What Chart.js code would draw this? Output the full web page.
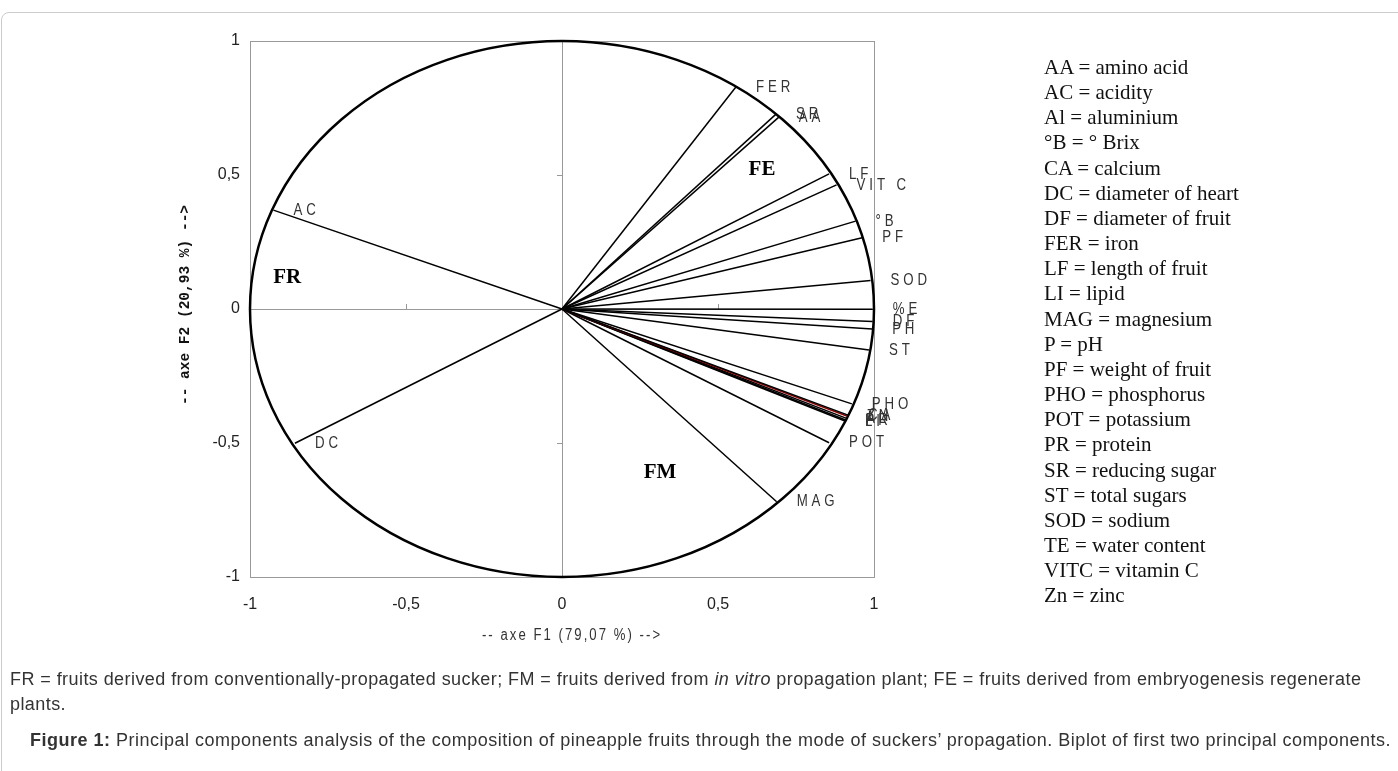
<!DOCTYPE html>
<html>
<head>
<meta charset="utf-8">
<script src="https://cdn.jsdelivr.net/npm/chart.js@4.4.1/dist/chart.umd.min.js"></script>
<style>
  body { margin: 0; background: #fff; width: 1398px; height: 771px; overflow: hidden; position: relative; }
  #frame { position: absolute; left: 1px; top: 12px; width: 1420px; height: 800px; border: 1px solid #ccc; border-radius: 8px; }
  #biplot { position: absolute; left: 0; top: 0; }
  #abbr { position: absolute; left: 1044px; top: 55px; font: 21px 'Liberation Serif', 'Times New Roman', serif; line-height: 25.15px; color: #111; }
  .cap { position: absolute; font: 18px 'Liberation Sans', Arial, sans-serif; color: #333; white-space: nowrap; }
</style>
</head>
<body>
<div id="frame"></div>
<canvas id="biplot" width="1398" height="771"></canvas>
<div id="abbr"></div>
<div class="cap" style="left:10px; top:667px; line-height:25px; letter-spacing:0.43px;">FR = fruits derived from conventionally-propagated sucker; FM = fruits derived from <i>in vitro</i> propagation plant; FE = fruits derived from embryogenesis regenerate<br>plants.</div>
<div class="cap" style="left:30px; top:730px; letter-spacing:0.5px;"><b>Figure 1:</b> Principal components analysis of the composition of pineapple fruits through the mode of suckers’ propagation. Biplot of first two principal components.</div>
<script>
// variable loadings on F1 / F2
const varNames = ["FER", "SR", "AA", "LF", "VIT C", "°B", "PF", "SOD", "%E", "DF", "PH", "ST", "PHO", "CA", "ZN", "AL", "PR", "LI", "POT", "MAG", "AC", "DC"];
const f1 = [0.558, 0.686, 0.695, 0.856, 0.880, 0.941, 0.962, 0.989, 0.996, 0.996, 0.994, 0.984, 0.929, 0.917, 0.913, 0.910, 0.909, 0.907, 0.856, 0.688, -0.925, -0.856];
const f2 = [0.829, 0.727, 0.716, 0.504, 0.463, 0.328, 0.266, 0.106, -0.001, -0.047, -0.075, -0.153, -0.354, -0.396, -0.399, -0.407, -0.414, -0.418, -0.499, -0.719, 0.369, -0.501];

// group labels
const groupNames = ["FR", "FE", "FM"];
const groupF1 = [-0.881, 0.641, 0.314];
const groupF2 = [0.116, 0.519, -0.612];

const tickValues = [-1, -0.5, 0, 0.5, 1];

const abbreviations = [
    "AA = amino acid", "AC = acidity", "Al = aluminium", "°B = ° Brix", "CA = calcium",
    "DC = diameter of heart", "DF = diameter of fruit", "FER = iron", "LF = length of fruit",
    "LI = lipid", "MAG = magnesium", "P = pH", "PF = weight of fruit", "PHO = phosphorus",
    "POT = potassium", "PR = protein", "SR = reducing sugar", "ST = total sugars",
    "SOD = sodium", "TE = water content", "VITC = vitamin C", "Zn = zinc"
];

document.getElementById("abbr").innerHTML = abbreviations.join("<br>");

const narrow = "'Liberation Sans Narrow','Arial Narrow','Liberation Sans',sans-serif";

const datasets = varNames.map((name, i) => ({
    label: name,
    data: [{ x: 0, y: 0 }, { x: f1[i], y: f2[i] }],
    showLine: true,
    borderColor: name === "ZN" ? "#8b0000" : "#000",
    borderWidth: 1.5,
    pointRadius: 0
}));

const frame = {
    id: "frame",
    beforeDatasetsDraw(chart) {
        const { ctx, chartArea: a, scales: { x, y } } = chart;
        const x0 = x.getPixelForValue(0), y0 = y.getPixelForValue(0);
        ctx.save();
        ctx.strokeStyle = "#999";
        ctx.lineWidth = 1;
        ctx.strokeRect(a.left + 0.5, a.top + 0.5, a.width, a.height);
        ctx.beginPath();
        ctx.moveTo(Math.round(x0) + 0.5, a.top);
        ctx.lineTo(Math.round(x0) + 0.5, a.bottom);
        ctx.moveTo(a.left, Math.round(y0) + 0.5);
        ctx.lineTo(a.right, Math.round(y0) + 0.5);
        [-0.5, 0.5].forEach(v => {
            const px = Math.round(x.getPixelForValue(v)) + 0.5;
            ctx.moveTo(px, y0);
            ctx.lineTo(px, y0 - 5);
            const py = Math.round(y.getPixelForValue(v)) + 0.5;
            ctx.moveTo(x0, py);
            ctx.lineTo(x0 - 5, py);
        });
        ctx.stroke();
        // correlation circle
        ctx.strokeStyle = "#000";
        ctx.lineWidth = 2.5;
        ctx.beginPath();
        ctx.ellipse(x0, y0, x.getPixelForValue(1) - x0, y0 - y.getPixelForValue(1), 0, 0, Math.PI * 2);
        ctx.stroke();
        ctx.restore();
    },
    afterDatasetsDraw(chart) {
        const { ctx, chartArea: a, scales: { x, y } } = chart;
        ctx.save();
        ctx.fillStyle = "#333";
        ctx.textBaseline = "middle";
        varNames.forEach((name, i) => {
            ctx.save();
            ctx.translate(x.getPixelForValue(f1[i]) + 20, y.getPixelForValue(f2[i]));
            ctx.scale(0.78, 1);
            ctx.font = "17px 'Liberation Sans', Arial, sans-serif";
            ctx.letterSpacing = "5px";
            ctx.fillText(name, 0, 0);
            ctx.restore();
        });
        ctx.fillStyle = "#000";
        ctx.textAlign = "center";
        ctx.font = "bold 21px 'Liberation Serif', 'Times New Roman', serif";
        groupNames.forEach((g, i) => {
            ctx.fillText(g, x.getPixelForValue(groupF1[i]), y.getPixelForValue(groupF2[i]));
        });
        // axis titles
        ctx.save();
        ctx.translate(572, 636);
        ctx.scale(0.82, 1);
        ctx.fillStyle = "#333";
        ctx.font = "16px 'Liberation Sans', Arial, sans-serif";
        ctx.letterSpacing = "2.5px";
        ctx.fillText("-- axe F1 (79,07 %) -->", 0, 0);
        ctx.restore();
        ctx.save();
        ctx.translate(185, (a.top + a.bottom) / 2 - 4);
        ctx.rotate(-Math.PI / 2);
        ctx.fillStyle = "#111";
        ctx.font = "bold 14.5px 'Liberation Mono', 'Courier New', monospace";
        ctx.fillText("-- axe F2 (20,93 %) -->", 0, 0);
        ctx.restore();
        ctx.restore();
    }
};

const tickOpts = (pad) => ({
    stepSize: 0.5,
    padding: pad,
    color: "#222",
    font: { size: 16, family: narrow },
    callback: v => tickValues.includes(v) ? String(v).replace(".", ",") : ""
});

new Chart(document.getElementById("biplot").getContext("2d"), {
    type: "scatter",
    data: { datasets: datasets },
    options: {
        responsive: false,
        animation: false,
        devicePixelRatio: 1,
        layout: { padding: { left: 190, right: 524, top: 41, bottom: 154 } },
        plugins: { legend: { display: false }, tooltip: { enabled: false } },
        scales: {
            x: {
                type: "linear", min: -1, max: 1,
                ticks: tickOpts(18),
                grid: { display: false, drawTicks: false },
                border: { display: false },
                afterFit: s => { s.height = 40; }
            },
            y: {
                type: "linear", min: -1, max: 1,
                ticks: tickOpts(10),
                grid: { display: false, drawTicks: false },
                border: { display: false },
                afterFit: s => { s.width = 60; }
            }
        }
    },
    plugins: [frame]
});
</script>
</body>
</html>
